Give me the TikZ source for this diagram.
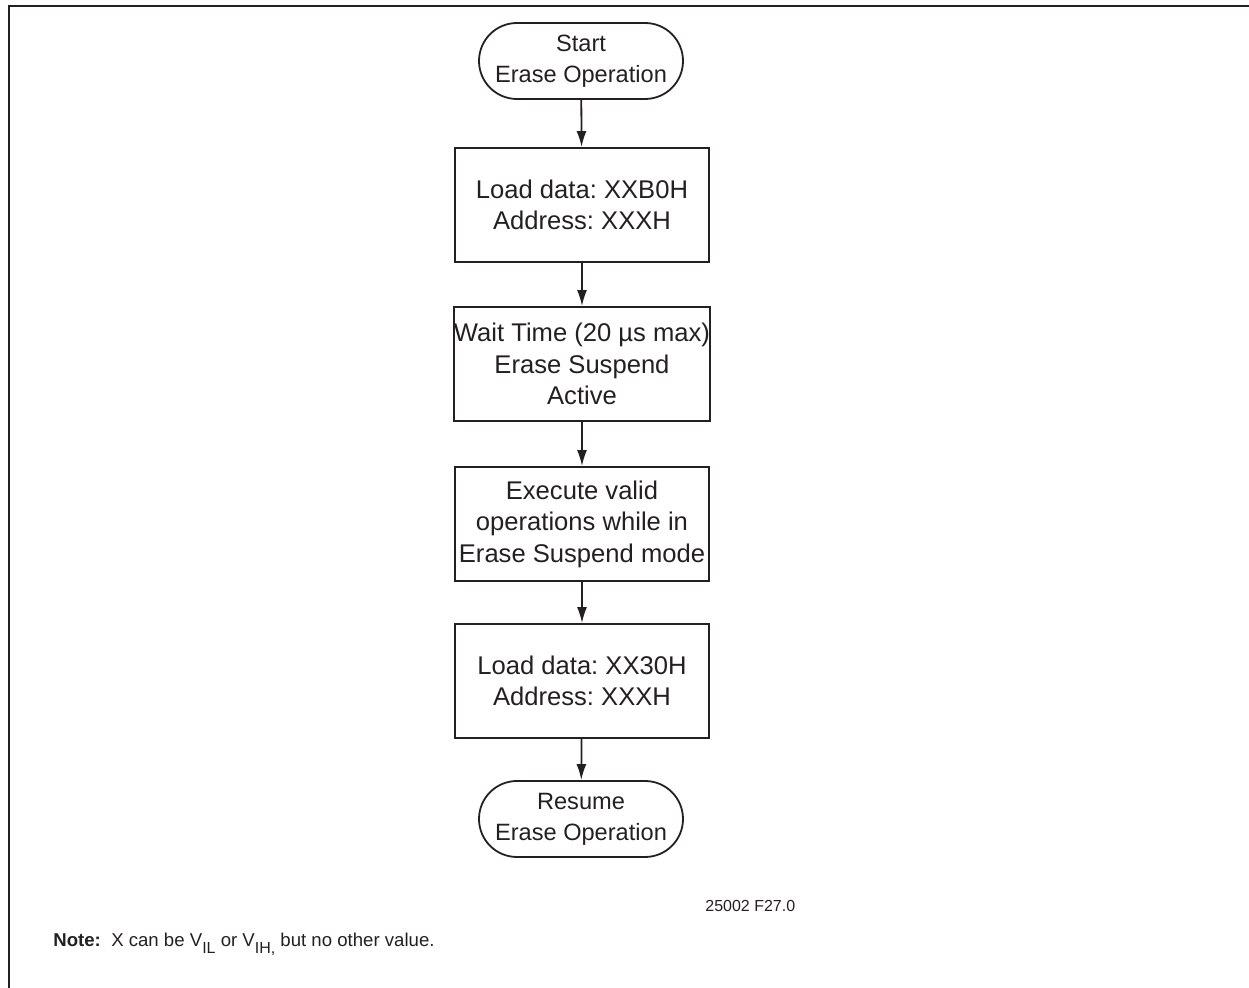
\documentclass[tikz,border=0pt]{standalone}
\usepackage{fontspec}
\setmainfont{Liberation Sans}
\usetikzlibrary{arrows.meta, shapes.misc}
\definecolor{InkBlack}{rgb}{0.14, 0.12, 0.13}
\frenchspacing

\newcommand{\lowidx}[1]{\raisebox{-3.5pt}{\fontsize{8}{8}\selectfont #1}}

\tikzset{
	term/.style={draw=InkBlack, line width=0.9pt, rounded rectangle, minimum width=102pt, minimum height=38pt, inner sep=0pt, align=center, text=InkBlack, font=\fontsize{11.8}{15.5}\selectfont},
	proc/.style={draw=InkBlack, line width=0.9pt, rectangle, minimum width=127pt, minimum height=57pt, inner sep=0pt, align=center, text=InkBlack, font=\fontsize{12.8}{15.7}\selectfont},
	arr/.style={draw=InkBlack, line width=0.9pt, -{Latex[length=8pt, width=5pt]}}
}

\begin{document}
\begin{tikzpicture}[x=0.5pt,y=0.5pt,yscale=-1,xscale=1]
		% Set diagram size to that of the page
		\useasboundingbox (0,0) rectangle (1249,988);

		% Draw the frame (top and left edges only)
		\draw[InkBlack, line width=1pt] (9,988) -- (9,6) -- (1249,6);

		% The flow chart nodes
		\node[term] (start) at (581,61) {Start\\Erase Operation};
		\node[proc] (loadB0) at (582,205) {Load data: XXB0H\\Address: XXXH};
		\node[proc] (waitsus) at (582,364) {Wait Time (20 µs max)\\Erase Suspend\\Active};
		\node[proc] (execops) at (582,524) {Execute valid\\operations while in\\Erase Suspend mode};
		\node[proc] (load30) at (582,681) {Load data: XX30H\\Address: XXXH};
		\node[term] (resume) at (581,819) {Resume\\Erase Operation};

		% Draw the arrows between the nodes
		\draw[arr] (start) -- (loadB0);
		\draw[arr] (loadB0) -- (waitsus);
		\draw[arr] (waitsus) -- (execops);
		\draw[arr] (execops) -- (load30);
		\draw[arr] (load30) -- (resume);

		% Figure number
		\node[anchor=west, inner sep=0pt, text=InkBlack, font=\fontsize{8}{9}\selectfont] (fignum) at (705,906) {25002 F27.0};

		% The note at the bottom
		\node[anchor=west, inner sep=0pt, text=InkBlack, font=\fontsize{9.3}{11}\selectfont] (note) at (53,944) {\textbf{Note:}\ \ X can be V\lowidx{IL} or V\lowidx{IH,} but no other value.};
	\end{tikzpicture}
\end{document}
